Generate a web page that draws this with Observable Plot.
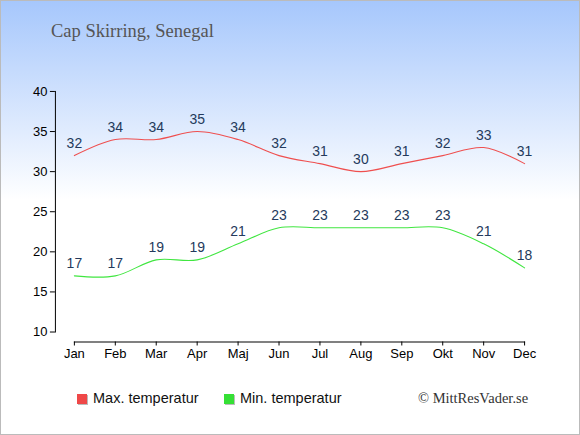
<!DOCTYPE html>
<html>
<head>
<meta charset="utf-8">
<script src="https://cdn.jsdelivr.net/npm/d3@7"></script>
<script src="https://cdn.jsdelivr.net/npm/@observablehq/plot@0.6"></script>
<style>
  html, body { margin: 0; padding: 0; }
  #wrap {
    position: relative; width: 580px; height: 435px; box-sizing: border-box;
    border: 1px solid #bbb;
    background: linear-gradient(to bottom, #a6c7fc 0%, #ffffff 46%, #ffffff 100%);
    overflow: hidden;
  }
  #title {
    position: absolute; left: 50px; top: 22px; line-height: 17px;
    font-family: "Liberation Serif", "DejaVu Serif", serif; font-size: 18.5px; color: #555;
    white-space: nowrap;
  }
  #chart { position: absolute; left: -1px; top: 58px; }
  .leg { position: absolute; top: 389px; font-family: "Liberation Sans", Arial, sans-serif;
    font-size: 14.5px; line-height: 16px; color: #111; white-space: nowrap; }
  .sw { position: absolute; top: 393px; width: 10px; height: 10px; box-shadow: 1px 1px 0 #bbb; }
  #copy { position: absolute; left: 417px; top: 389px; font-family: "Liberation Serif", serif;
    font-size: 14.5px; line-height: 16px; color: #333; white-space: nowrap; }
</style>
</head>
<body>
<div id="wrap">
  <div id="title"></div>
  <div id="chart"></div>
  <div class="sw" style="left:76px;background:#ef4848"></div>
  <div class="leg" id="l1" style="left:92px"></div>
  <div class="sw" style="left:223px;background:#35e035"></div>
  <div class="leg" id="l2" style="left:239px"></div>
  <div id="copy"></div>
</div>
<script>
const titleText = "Cap Skirring, Senegal";
const months = ["Jan","Feb","Mar","Apr","Maj","Jun","Jul","Aug","Sep","Okt","Nov","Dec"];
const maxTemp = [32,34,34,35,34,32,31,30,31,32,33,31];
const minTemp = [17,17,19,19,21,23,23,23,23,23,21,18];
const yTicks = [10,15,20,25,30,35,40];
const seriesNames = ["Max. temperatur","Min. temperatur"];
const seriesColors = ["#ef4f4f","#40e640"];
const copyText = "© MittResVader.se";

document.getElementById("title").textContent = titleText;
document.getElementById("l1").textContent = seriesNames[0];
document.getElementById("l2").textContent = seriesNames[1];
document.getElementById("copy").textContent = copyText;

const maxData = months.map((m, i) => ({month: m, v: maxTemp[i]}));
const minData = months.map((m, i) => ({month: m, v: minTemp[i]}));

const chart = Plot.plot({
  width: 580, height: 313,
  marginLeft: 55, marginRight: 55, marginTop: 32, marginBottom: 30,
  style: {background: "transparent", fontFamily: "'Liberation Sans', Arial, sans-serif", fontSize: "13px", color: "#000"},
  x: {type: "point", domain: months, padding: 0, insetLeft: 19},
  y: {domain: [10, 40], insetBottom: 10},
  marks: [
    Plot.frame({anchor: "left", insetBottom: 10, stroke: "#000"}),
    Plot.frame({anchor: "bottom", insetLeft: 19, stroke: "#000"}),
    Plot.axisY({ticks: yTicks, tickSize: 5, tickPadding: 3, label: null, fontSize: 13}),
    Plot.axisX({tickSize: 4, tickPadding: 3, label: null, fontSize: 13}),
    Plot.line(maxData, {x: "month", y: "v", curve: "catmull-rom", stroke: seriesColors[0], strokeWidth: 1.1}),
    Plot.line(minData, {x: "month", y: "v", curve: "catmull-rom", stroke: seriesColors[1], strokeWidth: 1.1}),
    Plot.text(maxData, {x: "month", y: "v", text: "v", dy: -12, fill: "#243a5c", fontSize: 14}),
    Plot.text(minData, {x: "month", y: "v", text: "v", dy: -12, fill: "#243a5c", fontSize: 14})
  ]
});
document.getElementById("chart").appendChild(chart);
</script>
</body>
</html>
